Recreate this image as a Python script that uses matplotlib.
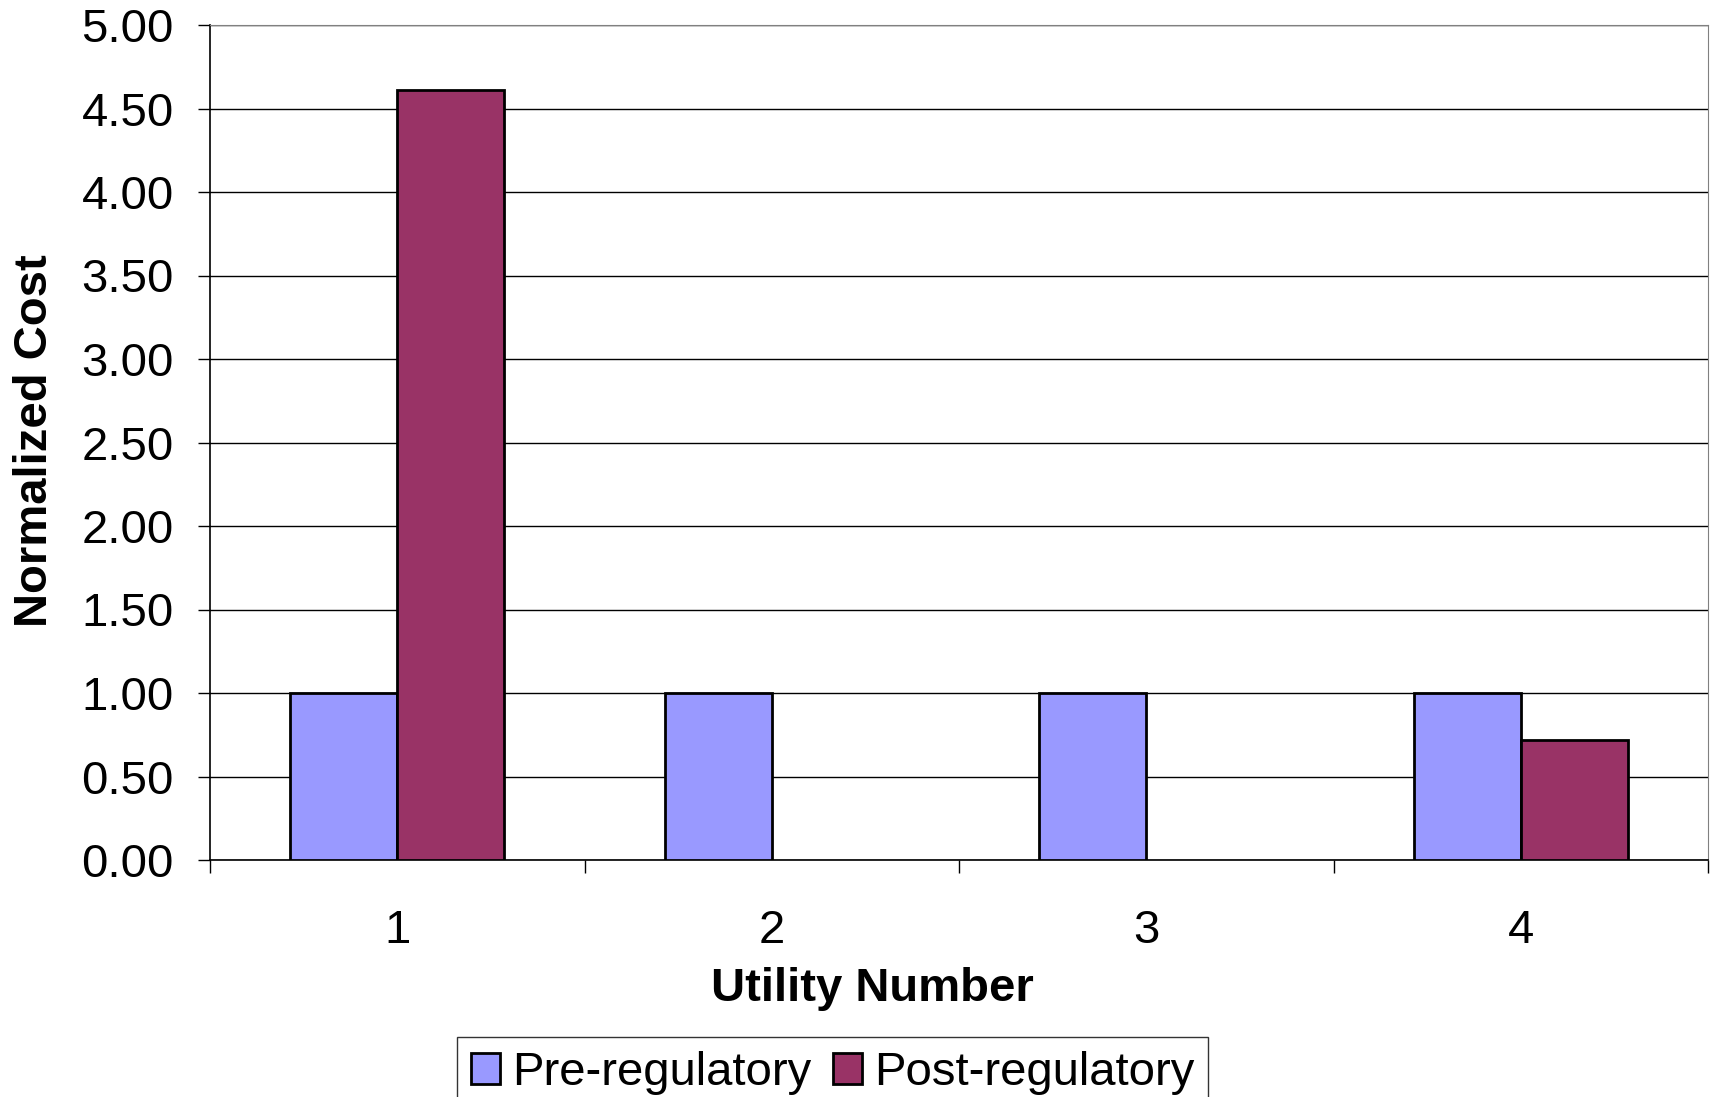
import matplotlib.pyplot as plt
import numpy as np

plt.rcParams['font.family'] = ['Liberation Sans', 'DejaVu Sans']

utilities = ['1', '2', '3', '4']
pre_cost = [1.00, 1.00, 1.00, 1.00]
post_cost = [4.61, 0.0, 0.0, 0.72]
yticks = [0.0, 0.5, 1.0, 1.5, 2.0, 2.5, 3.0, 3.5, 4.0, 4.5, 5.0]

fig = plt.figure(figsize=(17.17, 10.97), dpi=100)
ax = fig.add_axes([210 / 1717, 1 - 860 / 1097, 1498 / 1717, 835 / 1097])

x = np.arange(1, len(utilities) + 1)
w = 1 / 3.5
ax.bar(x - w / 2, pre_cost, w, color='#9999FF', edgecolor='black', linewidth=2,
       label='Pre-regulatory', zorder=3)
post_x = [xi + w / 2 for xi, v in zip(x, post_cost) if v > 0]
post_v = [v for v in post_cost if v > 0]
ax.bar(post_x, post_v, w, color='#993366', edgecolor='black', linewidth=2,
       label='Post-regulatory', zorder=3)

ax.set_xlim(0.5, 4.5)
ax.set_ylim(0, 5)
ax.set_yticks(yticks)
ax.set_yticklabels(['%.2f' % t for t in yticks])
ax.yaxis.grid(True, color='black', linewidth=1, zorder=0)
ax.set_axisbelow(True)

ax.set_xticks(x)
ax.set_xticklabels(utilities)
ax.set_xticks(np.arange(0.5, 4.6, 1), minor=True)
ax.tick_params(axis='x', which='major', length=0, pad=35, labelsize=34)
ax.tick_params(axis='x', which='minor', length=9, width=1, direction='out')
ax.tick_params(axis='y', length=9, width=1, direction='out', pad=17, labelsize=34)

for s in ['top', 'right']:
    ax.spines[s].set_color('#808080')
ax.spines['left'].set_linewidth(1.2)
ax.spines['bottom'].set_linewidth(1.2)

fig.text(35 / 1717, 1 - 441 / 1097, 'Normalized Cost', rotation=90, fontsize=34,
         fontweight='bold', ha='center', va='center')
fig.text(872 / 1717, 1 - 989 / 1097, 'Utility Number', fontsize=34,
         fontweight='bold', ha='center', va='center')

leg = fig.legend(loc='upper left', bbox_to_anchor=(457 / 1717, 1 - 1037 / 1097),
                 ncol=2, fontsize=34, frameon=True, fancybox=False,
                 handlelength=0.62, handleheight=0.62, handletextpad=0.25,
                 columnspacing=0.45, borderpad=0.3, borderaxespad=0)
leg.get_frame().set_edgecolor('black')
leg.get_frame().set_linewidth(1)

fig.savefig('out.png', dpi=100)
